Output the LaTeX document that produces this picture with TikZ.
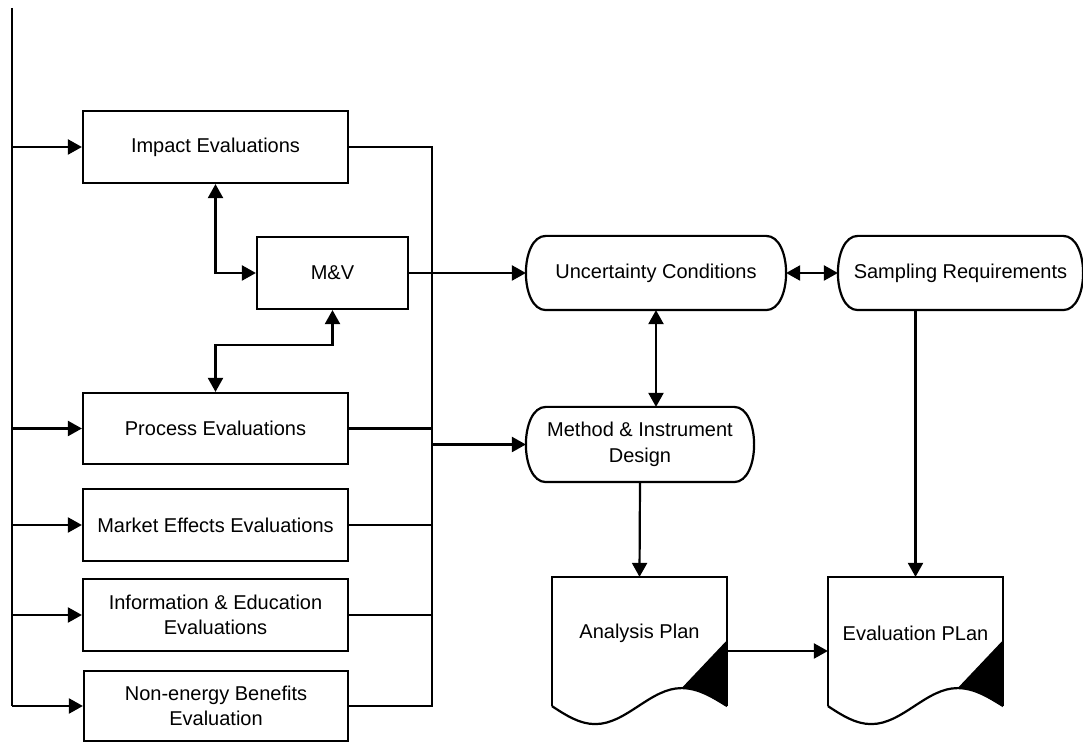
\documentclass[tikz,border=0pt]{standalone}
\usepackage{fontspec}
\setmainfont{Liberation Sans}
\usetikzlibrary{arrows.meta,calc}
\tikzset{
  box/.style={draw, rectangle, inner sep=0pt, align=center, minimum height=36pt},
  term/.style={rectangle, inner sep=0pt, align=center, minimum height=36pt},
  docnode/.style={rectangle, inner sep=0pt, align=center, minimum width=86.5pt, minimum height=55pt},
  arr/.style={-{Triangle[length=7pt,width=7.5pt]}},
  arrtwo/.style={{Triangle[length=7pt,width=7.5pt]}-{Triangle[length=7pt,width=7.5pt]}},
}
\newcommand{\termshape}[1]{%
  \draw ($(#1.north west)+(20,0)$) -- ($(#1.north east)+(-20,0)$)
    .. controls ($(#1.north east)+(6.67,0)$) and ($(#1.south east)+(6.67,0)$) .. ($(#1.south east)+(-20,0)$)
    -- ($(#1.south west)+(20,0)$)
    .. controls ($(#1.south west)+(-6.67,0)$) and ($(#1.north west)+(-6.67,0)$) .. cycle;}
\newcommand{\docshape}[1]{%
  \draw ($(#1.south west)+(0,17)$) -- (#1.north west) -- (#1.north east) -- ($(#1.south east)+(0,17)$);
  \draw ($(#1.south west)+(0,17)$) sin ($(#1.south west)+(43.25,35)$) cos ($(#1.south west)+(86.5,17)$)
    sin ($(#1.south west)+(129.75,-1)$) cos ($(#1.south east)+(0,17)$);
  \fill ($(#1.south east)+(0,-49)$) -- ($(#1.south west)+(129.75,-1)$) cos ($(#1.south east)+(0,17)$) -- cycle;}
\begin{document}
\begin{tikzpicture}[x=0.5pt,y=-0.5pt,line width=1.1pt,font=\fontsize{10}{12.85}\selectfont]
\useasboundingbox (0,0) rectangle (1083,742);

\node[box, minimum width=132.5pt] (imp) at (215.5,147) {Impact Evaluations};
\node[box, minimum width=75.5pt] (mv) at (332.5,273) {M\&V};
\node[box, minimum width=132.5pt, minimum height=35.5pt] (proc) at (215.5,428.5) {Process Evaluations};
\node[box, minimum width=132.5pt] (mkt) at (215.5,525) {Market Effects Evaluations};
\node[box, minimum width=132.5pt] (info) at (215.5,615) {Information \& Education\\Evaluations};
\node[box, minimum width=132pt, minimum height=35pt] (neb) at (216,706) {Non-energy Benefits\\Evaluation};

\node[term, minimum width=129pt] (unc) at (656,273) {Uncertainty Conditions};
\node[term, minimum width=121.5pt] (samp) at (960.5,273) {Sampling Requirements};
\node[term, minimum width=113pt, minimum height=36.5pt] (meth) at (640,444.5) {Method \& Instrument\\Design};
\termshape{unc}
\termshape{samp}
\termshape{meth}

\node[docnode] (ana) at (639.5,633) {Analysis Plan};
\node[docnode] (evp) at (915.5,633) {Evaluation PLan};
\docshape{ana}
\docshape{evp}

% left bus
\coordinate (lt) at (12,8);
\draw (lt) -- (lt |- neb.west);
\draw[arr] (lt |- imp.west) -- (imp.west);
\draw[arr] (lt |- proc.west) -- (proc.west);
\draw[arr] (lt |- mkt.west) -- (mkt.west);
\draw[arr] (lt |- info.west) -- (info.west);
\draw[arr] (lt |- neb.west) -- (neb.west);

% right bus
\coordinate (rb) at (432,146);
\draw (imp.east) -- (imp.east -| rb) -- (neb.east -| rb) -- (neb.east);
\draw (proc.east) -- (proc.east -| rb);
\draw (mkt.east) -- (mkt.east -| rb);
\draw (info.east) -- (info.east -| rb);
\draw[arr] (rb |- meth.west) -- (meth.west);

% M&V links
\draw[arrtwo] (imp.south) |- (mv.west);
\coordinate (jn) at (0,345);
\draw[arrtwo] (mv.south) -- (mv.south |- jn) -| (proc.north);
\draw[arr] (mv.east) -- (unc.west);

% right side
\draw[arrtwo] (unc.east) -- (samp.west);
\draw[arrtwo] (unc.south) -- (unc.south |- meth.north);
\draw[arr] (meth.south) -- (ana.north);
\draw[arr] (evp.north |- samp.south) -- (evp.north);
\draw[arr] ([yshift=-9pt]ana.east) -- ([yshift=-9pt]evp.west);
\end{tikzpicture}
\end{document}
